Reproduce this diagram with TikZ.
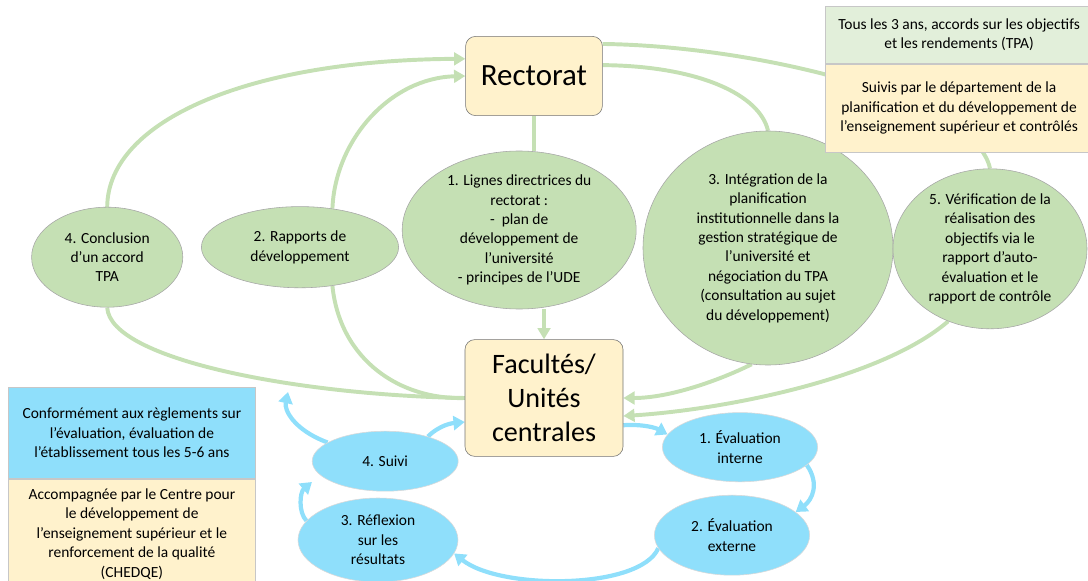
\documentclass[tikz,border=0pt]{standalone}
\usepackage{fontspec}
\setmainfont{Carlito}
\usepackage{tikz}
\usetikzlibrary{arrows.meta,positioning,calc,shapes.geometric,backgrounds}
\definecolor{BoxYellow}{HTML}{FFF2CC}
\definecolor{LeafGreen}{HTML}{C5E0B4}
\definecolor{PaleGreen}{HTML}{E2EFDA}
\definecolor{SkyBlue}{HTML}{8FDFFB}
\definecolor{EdgeGrey}{HTML}{A6A6A6}

\begin{document}
\begin{tikzpicture}[
        >=Latex,
        font=\fontsize{11}{13.8}\selectfont,
        mainbox/.style={
            draw=black!55,
            fill=BoxYellow,
            rounded corners=7pt,
            align=center,
            inner sep=2pt,
            font=\fontsize{22}{24}\selectfont
        },
        infobox/.style={
            draw=black!22,
            align=center,
            inner sep=2pt,
            minimum width=6.7cm,
            anchor=north west
        },
        greenell/.style={
            ellipse,
            draw=EdgeGrey,
            fill=LeafGreen,
            align=center,
            inner sep=0pt
        },
        blueell/.style={
            ellipse,
            draw=black!15,
            fill=SkyBlue,
            align=center,
            inner sep=0pt
        },
        garrow/.style={line width=2.8pt, draw=LeafGreen},
        gtip/.style={garrow, -{Triangle[length=8pt,width=9pt]}},
        barrow/.style={line width=3pt, draw=SkyBlue, -{Triangle[length=8pt,width=10pt]}}
    ]
        \useasboundingbox (0,0) rectangle (27.2,-14.525);

        \node[mainbox, minimum width=3.42cm, minimum height=1.98cm] (rect) at (13.35,-1.90)
            {Rectorat};
        \node[mainbox, minimum width=3.95cm, minimum height=2.92cm, font=\fontsize{20}{24}\selectfont] (fac) at (13.60,-9.95)
            {Facultés/\\Unités\\centrales};

        \node[greenell, minimum width=3.78cm, minimum height=2.50cm] (conc) at (2.68,-6.43)
            {4. Conclusion\\d’un accord\\TPA};
        \node[greenell, minimum width=4.93cm, minimum height=2.03cm] (rapp) at (7.50,-6.18)
            {2. Rapports de\\développement};
        \node[greenell, minimum width=5.85cm, minimum height=3.95cm] (lign) at (12.98,-5.75)
            {1. Lignes directrices du\\rectorat :\\-~ plan de\\développement de\\l’université\\- principes de l’UDE};
        \node[greenell, minimum width=6.25cm, minimum height=5.85cm] (integ) at (19.20,-6.20)
            {3. Intégration de la\\planification\\institutionnelle dans la\\gestion stratégique de\\l’université et\\négociation du TPA\\(consultation au sujet\\du développement)};
        \node[greenell, minimum width=4.85cm, minimum height=4.0cm] (verif) at (24.75,-6.22)
            {5. Vérification de la\\réalisation des\\objectifs via le\\rapport d’auto-\\évaluation et le\\rapport de contrôle};

        \node[blueell, minimum width=3.65cm, minimum height=1.50cm] (suivi) at (9.63,-11.53)
            {4. Suivi};
        \node[blueell, minimum width=4.0cm, minimum height=2.1cm] (refl) at (9.45,-13.50)
            {3. Réflexion\\sur les\\résultats};
        \node[blueell, minimum width=3.88cm, minimum height=1.73cm] (evint) at (18.50,-11.18)
            {1. Évaluation\\interne};
        \node[blueell, minimum width=3.88cm, minimum height=2.0cm] (evext) at (18.30,-13.38)
            {2. Évaluation\\externe};

        \node[infobox, fill=PaleGreen, minimum height=1.43cm] (tpa) at (20.62,-0.15)
            {Tous les 3 ans, accords sur les objectifs\\et les rendements (TPA)};
        \node[infobox, fill=BoxYellow, minimum height=2.2cm] (depart) at (tpa.south west)
            {Suivis par le département de la\\planification et du développement de\\l’enseignement supérieur et contrôlés};
        \node[infobox, fill=SkyBlue, minimum width=6.18cm, minimum height=2.28cm] (regl) at (0.20,-9.675)
            {Conformément aux règlements sur\\l’évaluation, évaluation de\\l’établissement tous les 5-6 ans};
        \node[infobox, fill=BoxYellow, minimum width=6.18cm, minimum height=2.75cm] (chedqe) at (regl.south west)
            {Accompagnée par le Centre pour\\le développement de\\l’enseignement supérieur et le\\renforcement de la qualité\\(CHEDQE)};

        \coordinate (upin) at (7.2,-9.8);

        \begin{scope}[on background layer]
            \draw[garrow] (rect.south) -- (rect.south |- lign.north);
            \draw[gtip] (lign.south -| fac.north) -- (fac.north);
            \draw[garrow] (fac.west) .. controls (7.5,-9.88) and (2.75,-9.0) .. (conc.south);
            \draw[gtip] (conc.north) .. controls (2.7,-3.0) and (6.25,-1.5) .. ([yshift=0.43cm]rect.west);
            \draw[garrow] (fac.west) .. controls (10.0,-10.0) and (8.5,-9.0) .. (rapp.-50);
            \draw[gtip] (rapp.50) .. controls (8.38,-3.5) and (9.75,-1.95) .. (rect.west);
            \draw[garrow] (rect.25) .. controls (19.0,-1.15) and (24.4,-2.5) .. (verif.north);
            \draw[garrow] (rect.9) .. controls (17.5,-1.65) and (19.0,-2.38) .. (integ.north);
            \draw[gtip] (integ.-98) .. controls (18.0,-9.5) and (16.75,-9.95) .. (fac.east);
            \draw[gtip] (verif.-120) .. controls (22.0,-9.5) and (18.0,-10.25) .. ([yshift=-0.45cm]fac.east);

            \draw[barrow] ([yshift=-0.68cm]fac.east) .. controls (16.1,-10.6) and (16.4,-10.7) .. (evint.170);
            \draw[barrow] (evint.-15) .. controls (20.5,-12.1) and (20.3,-12.5) .. (evext.20);
            \draw[barrow] (evext.-170) .. controls (16.0,-14.75) and (12.5,-14.75) .. (refl.-10);
            \draw[barrow] (refl.165) .. controls (7.45,-12.8) and (7.5,-12.3) .. ([yshift=-0.52cm]suivi.west);
            \draw[barrow] (suivi.162) .. controls (7.35,-10.75) and (7.1,-10.25) .. (upin);
            \draw[barrow] (suivi.30) .. controls (11.0,-10.62) and (11.3,-10.58) .. ([yshift=-0.6cm]fac.west);
        \end{scope}
    \end{tikzpicture}
\end{document}
